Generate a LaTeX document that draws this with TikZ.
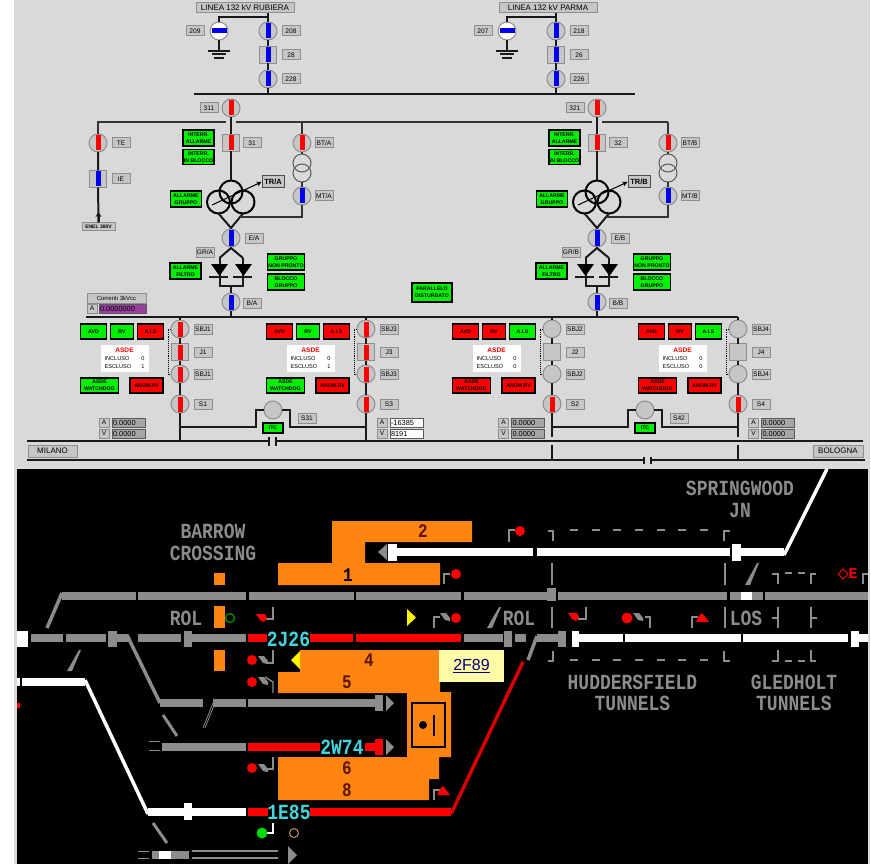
\documentclass[tikz,border=0pt]{standalone}
\usepackage{fontspec}
\setmainfont{Liberation Sans}
\setmonofont{Liberation Mono}
\usetikzlibrary{arrows.meta}
\definecolor{panelgrey}{HTML}{D9D9D9}
\definecolor{swgrey}{HTML}{C6C6C6}
\definecolor{edgegrey}{HTML}{8E8E8E}
\definecolor{okgreen}{HTML}{00F000}
\definecolor{dispgrey}{HTML}{A6A6A6}
\definecolor{disppurple}{HTML}{9A3FA0}
\definecolor{trkgrey}{HTML}{8C8C8C}
\definecolor{platform}{HTML}{FF8410}
\definecolor{idcyan}{HTML}{44D4DC}
\definecolor{brownnum}{HTML}{5A1408}
\definecolor{bluesw}{HTML}{0000F0}
\tikzset{
  sw/.style={circle,draw=edgegrey,fill=swgrey,line width=1pt,minimum size=18pt,inner sep=0pt,outer sep=0pt},
  brk/.style={rectangle,draw=edgegrey,fill=swgrey,line width=1pt,minimum size=17pt,inner sep=0pt,outer sep=0pt},
  swbar/.style={path picture={\fill[#1] ([xshift=-2.5pt,yshift=-7.5pt]path picture bounding box.center) rectangle ([xshift=2.5pt,yshift=7.5pt]path picture bounding box.center);}},
  tag/.style={draw=edgegrey,fill=swgrey,line width=1pt,font=\fontsize{6.6}{7}\selectfont,inner sep=0pt,minimum height=10pt,minimum width=#1},
  tag/.default=18pt,
  btn/.style={fill=#1,draw=black,line width=1.1pt,align=center,inner sep=0pt,outer sep=0pt,font=\fontsize{5.2}{6.6}\selectfont\bfseries},
  disp/.style={fill=#1,draw=black!65,line width=.9pt,align=left,inner ysep=0pt,inner xsep=1pt,text width=31pt,minimum height=9pt,font=\fontsize{7.4}{8}\selectfont},
  wire/.style={line width=2pt,black!90},
  coil/.style={circle,draw=black,line width=2pt,minimum size=23pt,inner sep=0pt,outer sep=0pt},
  wind/.style={circle,draw=black!65,line width=1pt,minimum size=18pt,inner sep=0pt,outer sep=0pt},
  trk/.style={line width=8pt,#1},
  trk/.default=trkgrey,
  post/.style={line width=1.4pt,draw=#1},
  post/.default=trkgrey,
  board/.style={text=trkgrey,font=\fontsize{18}{20}\selectfont\ttfamily\bfseries,yscale=1.2,inner sep=0pt},
  idtxt/.style={text=idcyan,font=\fontsize{18}{20}\selectfont\ttfamily\bfseries,yscale=1.2,inner sep=0pt},
  platnum/.style={text=brownnum,font=\fontsize{16}{18}\selectfont\ttfamily\bfseries,yscale=1.2,inner sep=0pt},
}
\newcommand{\wedgedown}[3]{\fill[#1] (#2-6,#3-3) -- (#2+3,#3-3) -- (#2+5,#3+1) -- (#2+2,#3+5) -- (#2-2,#3+3) -- cycle;}
\newcommand{\wedgeup}[3]{\fill[#1] (#2-6,#3+4) -- (#2+7,#3+4) -- (#2+4,#3) -- (#2,#3-5) -- (#2-3,#3-2) -- cycle;}
\newcommand{\wedgegrey}[2]{\fill[trkgrey] (#1-5,#2-4) -- (#1+1,#2-4) -- (#1+5,#2+1) -- (#1+5,#2+4) -- (#1,#2+3) -- cycle;}
\newcommand{\sliver}[4]{\fill[trkgrey] (#1-2,#2) -- (#1+3,#2) -- (#3+1,#4) -- (#3-1,#4) -- cycle;}
\begin{document}
\begin{tikzpicture}[x=1pt,y=-1pt]
  \useasboundingbox (0,0) rectangle (871,864);
  \fill[white] (0,0) rectangle (871,864);
  \fill[panelgrey] (14,0) rectangle (870,864);
  \fill[black] (17,469) rectangle (868,864);

  % incoming lines
  \foreach \lx/\lo/\ln/\gn/\sa/\sb/\sc in {268/-23/RUBIERA/209/208/28/228, 556/-8/PARMA/207/218/26/226} {
    \node[tag,minimum width=98pt,minimum height=10pt,font=\fontsize{8}{9}\selectfont,anchor=south] (line\ln) at (\lx+\lo,13) {LINEA 132 kV \ln};
    \node[sw,swbar=bluesw] (sw\sa) at (\lx,31) {};
    \node[brk,swbar=bluesw] (brk\sb) at (\lx,55) {};
    \node[sw,swbar=bluesw] (sw\sc) at (\lx,79) {};
    \node[sw,fill=white,path picture={\fill[bluesw] ([xshift=-7.5pt,yshift=-2.5pt]path picture bounding box.center) rectangle ([xshift=7.5pt,yshift=2.5pt]path picture bounding box.center);}] (sw\gn) at (\lx-49,31) {};
    \node[tag] (tag\gn) at (\lx-73,31) {\gn};
    \node[tag] (tag\sa) at (\lx+23,31) {\sa};
    \node[tag] (tag\sb) at (\lx+23,55) {\sb};
    \node[tag] (tag\sc) at (\lx+23,79) {\sc};
    \coordinate (top\ln) at (\lx,13);
    \coordinate (bus\ln) at (\lx,94);
    \coordinate (earth\ln) at (\lx-49,51);
    \draw[wire] (top\ln) -- (sw\sa) -- (brk\sb) -- (sw\sc) -- (bus\ln);
    \draw[wire] (\lx,17) -| (sw\gn.north);
    \draw[wire] (sw\gn) -- (earth\ln);
    \draw[wire] (earth\ln) ++(-11,0) -- ++(22,0);
    \draw[wire] (earth\ln) ++(-7,3.5) -- ++(14,0);
    \draw[wire] (earth\ln) ++(-5,7) -- ++(10,0);
  }
  \coordinate (busa) at (194,94);
  \coordinate (busb) at (635,94);
  \draw[wire] (busa) -- (busb);

  % auxiliary supply
  \node[sw,swbar=red] (swTE) at (98,143) {};
  \node[brk,swbar=bluesw] (brkIE) at (98,179) {};
  \node[tag] (tagTE) at (121,143) {TE};
  \node[tag] (tagIE) at (121,179) {IE};
  \node[tag,minimum width=33pt,minimum height=8pt,font=\fontsize{5}{6}\selectfont\bfseries] (enel) at (98.5,227) {ENEL 380V};
  \coordinate (aux) at (98,122);
  \coordinate (auxgapa) at (226,122);
  \coordinate (auxgapb) at (236,122);
  \coordinate (auxgapc) at (592,122);
  \coordinate (auxgapd) at (602,122);
  \coordinate (auxend) at (668,122);
  \draw[line width=1.5pt,black!80] (swTE) -- (aux) -- (auxgapa) (auxgapb) -- (auxgapc) (auxgapd) -- (auxend);
  \draw[wire] (swTE) -- (brkIE) -- (enel);
  \draw[-{Stealth[length=5pt,width=6pt]},wire] (enel) -- ++(0,-15);

  % transformer groups
  \foreach \dx/\g/\nn/\sn in {0/A/31/311, 366/B/32/321} {
    \node[sw,swbar=red] (sw\sn) at (\dx+231,108) {};
    \node[tag] (tag\sn) at (\dx+209,108) {\sn};
    \node[brk,swbar=red] (brk\nn) at (\dx+231,143) {};
    \node[tag] (tag\nn) at (\dx+252,143) {\nn};
    \node[btn=okgreen,minimum width=31pt,minimum height=16pt] (intall\g) at (\dx+198.5,138) {INTERR.\\ALLARME};
    \node[btn=okgreen,minimum width=31pt,minimum height=15pt] (intblk\g) at (\dx+198.5,157) {INTERR.\\IN BLOCCO};
    \node[btn=okgreen,minimum width=31pt,minimum height=16pt] (allgr\g) at (\dx+186,199) {ALLARME\\GRUPPO};
    \node[coil] (coilt\g) at (\dx+231,192) {};
    \node[coil] (coill\g) at (\dx+218.5,202) {};
    \node[coil] (coilr\g) at (\dx+243,202) {};
    \node[tag,draw=black!70,line width=1pt,minimum width=22pt,minimum height=12pt,font=\fontsize{7.5}{8}\selectfont\bfseries] (tagTR\g) at (\dx+273,182) {TR/\g};
    \draw[-{Stealth[length=5pt,width=5pt]},line width=1pt] ([xshift=-6.5pt,yshift=-3pt]coill\g.center) -- (tagTR\g.west);
    \coordinate (tip\g) at (\dx+231,228);
    \draw[wire] (coill\g.south) -- (tip\g) -- (coilr\g.south);
    \draw[wire] (sw\sn) -- (brk\nn) -- (coilt\g);
    \coordinate (tap\g) at (\dx+302,122);
    \node[sw,swbar=red] (swBT\g) at (\dx+302,143) {};
    \node[wind] (winda\g) at (\dx+302,163) {};
    \node[wind,fill=none] (windb\g) at (\dx+302,173) {};
    \node[sw,swbar=bluesw] (swMT\g) at (\dx+302,196) {};
    \node[tag] (tagBT\g) at (\dx+324,143) {BT/\g};
    \node[tag] (tagMT\g) at (\dx+324,196) {MT/\g};
    \draw[line width=1.5pt,black!80] (tap\g) -- (swBT\g) -- (winda\g);
    \draw[line width=1.5pt,black!80] (windb\g) -- (swMT\g) -- (\dx+302,217) -- (\dx+240,217);
    \node[sw,swbar=bluesw] (swE\g) at (\dx+231,238) {};
    \node[tag] (tagE\g) at (\dx+254,238.5) {E/\g};
    \node[tag] (tagGR\g) at (\dx+205,252) {GR/\g};
    \node[sw,swbar=bluesw] (swB\g) at (\dx+231,302) {};
    \node[tag] (tagB\g) at (\dx+252,303) {B/\g};
    \coordinate (apex\g) at (\dx+231,248);
    \coordinate (dl\g) at (\dx+219.5,258);
    \coordinate (dr\g) at (\dx+243,258);
    \coordinate (jn\g) at (\dx+231,286);
    \coordinate (bb\g) at (\dx+231,317);
    \draw[wire] (tip\g) -- (swE\g) -- (apex\g);
    \draw[wire] (dl\g) -- (apex\g) -- (dr\g);
    \draw[wire] (dl\g) -- ++(0,28) -- ++(23.5,0) -- (dr\g);
    \draw[wire] (jn\g) -- (swB\g) -- (bb\g);
    \fill (\dx+211,264) -- (\dx+228,264) -- (\dx+219.5,276) -- cycle;
    \fill (\dx+235,264) -- (\dx+252,264) -- (\dx+243.5,276) -- cycle;
    \draw[wire] (\dx+209,277) -- (\dx+228,277) (\dx+233,277) -- (\dx+252,277);
    \node[btn=okgreen,minimum width=31pt,minimum height=16pt] (allfl\g) at (\dx+185.5,271) {ALLARME\\FILTRO};
    \node[btn=okgreen,minimum width=37pt,minimum height=16pt] (grnp\g) at (\dx+286,262) {GRUPPO\\NON PRONTO};
    \node[btn=okgreen,minimum width=37pt,minimum height=16pt] (grbl\g) at (\dx+286,282) {BLOCCO\\GRUPPO};
  }
  \node[btn=okgreen,minimum width=40pt,minimum height=19pt] (parall) at (432,292.5) {PARALLELO\\DISTURBATO};

  % dc bus
  \coordinate (dcbusa) at (85.5,317);
  \coordinate (dcbusb) at (738,317);
  \draw[wire] (dcbusa) -- (dcbusb);
  \node[tag,minimum width=59pt,minimum height=10pt,font=\fontsize{6}{7}\selectfont] (corr) at (116.5,298) {Correnti 3kVcc};
  \node[tag,minimum width=10pt,minimum height=9pt] (corrA) at (92,308.5) {A};
  \node[disp=disppurple,text width=45pt,font=\fontsize{7.4}{8}\selectfont] (corrval) at (122.5,308.5) {0.0000000};

  % line feeders
  \foreach \fx/\fn/\bc/\avdst/\rvst/\ajsst/\wdst/\anst/\incl/\excl/\ax/\va/\vb/\dc/\fend in {
    180/1/red/okgreen/okgreen/red/okgreen/red/0/1/-76/0.0000/0.0000/dispgrey/441,
    366/3/red/red/okgreen/red/okgreen/red/0/1/16/-16385/8191/white/441,
    552/2/swgrey/red/red/okgreen/red/red/0/0/-48.5/0.0000/0.0000/dispgrey/437,
    738/4/swgrey/red/red/okgreen/red/red/0/0/15.5/0.0000/0.0000/dispgrey/437} {
    \node[sw,swbar=\bc] (sba\fn) at (\fx,329) {};
    \node[brk,swbar=\bc] (brkJ\fn) at (\fx,352) {};
    \node[sw,swbar=\bc] (sbb\fn) at (\fx,374) {};
    \node[sw,swbar=red] (swS\fn) at (\fx,404) {};
    \node[tag] (tagsa\fn) at (\fx+23,329) {SBJ\fn};
    \node[tag] (tagJ\fn) at (\fx+23,352) {J\fn};
    \node[tag] (tagsb\fn) at (\fx+23,374) {SBJ\fn};
    \node[tag] (tagS\fn) at (\fx+23,404) {S\fn};
    \coordinate (ftop\fn) at (\fx,317);
    \coordinate (fend\fn) at (\fx,\fend);
    \coordinate (fjct\fn) at (\fx,427);
    \draw[wire] (ftop\fn) -- (sba\fn) -- (brkJ\fn) -- (sbb\fn) -- (swS\fn) -- (fend\fn);
    \draw[densely dotted,line width=.9pt] (sba\fn.west) -- ++(-3,0) |- (sbb\fn.west);
    \node[btn=\avdst,minimum width=26pt,minimum height=15pt] (avd\fn) at (\fx-86.5,331.5) {AVD};
    \node[btn=\rvst,minimum width=23pt,minimum height=15pt] (rv\fn) at (\fx-58,331.5) {RV};
    \node[btn=\ajsst,minimum width=26pt,minimum height=15pt] (ajs\fn) at (\fx-29.5,331.5) {A.I.S};
    \node[fill=white,minimum width=48pt,minimum height=27pt,inner sep=0pt,font=\fontsize{5.6}{8}\selectfont] (asde\fn) at (\fx-55.5,358.5) {\begin{tabular}{@{}l@{\hspace{10pt}}l@{}}\multicolumn{2}{c}{\textcolor{red}{\bfseries\fontsize{6.6}{8}\selectfont ASDE}}\\ INCLUSO & \incl\\ ESCLUSO & \excl\end{tabular}};
    \node[btn=\wdst,minimum width=38pt,minimum height=15pt] (wd\fn) at (\fx-80.5,385.5) {ASDE\\WATCHDOG};
    \node[btn=\anst,minimum width=33pt,minimum height=15pt] (anom\fn) at (\fx-33.5,385.5) {ANOM.RV};
    \node[tag,minimum width=10pt,minimum height=9pt] (tagA\fn) at (\fx+\ax,422.5) {A};
    \node[tag,minimum width=10pt,minimum height=9pt] (tagV\fn) at (\fx+\ax,433.5) {V};
    \node[disp=\dc] (dispA\fn) at (\fx+\ax+24.5,422.5) {\va};
    \node[disp=\dc] (dispV\fn) at (\fx+\ax+24.5,433.5) {\vb};
  }
  \foreach \sx/\sn/\fl/\fr in {273/S31/1/3, 645/S42/2/4} {
    \node[sw] (sw\sn) at (\sx,410) {};
    \node[tag] (tag\sn) at (\sx+34,418) {\sn};
    \node[btn=okgreen,minimum width=20pt,minimum height=10pt] (itc\sn) at (\sx,428) {ITC};
    \draw[wire] (fjct\fl) -- (\sx-17,427) |- (sw\sn.west);
    \draw[wire] (sw\sn.east) -| (\sx+17,427) -- (fjct\fr);
  }
  \draw[wire] (552,445) -- (552,460) (738,445) -- (738,460);

  % rails
  \node[tag,minimum width=49pt,minimum height=12pt,font=\fontsize{8}{9}\selectfont] (milano) at (52.5,451) {MILANO};
  \node[tag,minimum width=50pt,minimum height=12pt,font=\fontsize{8}{9}\selectfont] (bologna) at (838,451) {BOLOGNA};
  \draw[wire] (27,441) -- (269,441) (276,441) -- (863,441);
  \draw[wire] (27,460) -- (644,460) (651,460) -- (865,460);
  \draw[wire] (269,437) -- (269,445.5) (276,437) -- (276,445.5);
  \draw[wire] (644,456.5) -- (644,464) (651,456.5) -- (651,464);

  % platforms
  \fill[platform] (332,521) -- (472,521) -- (472,542) -- (365,542) -- (365,563) -- (440,563) -- (440,585) -- (278,585) -- (278,563) -- (332,563) -- cycle;
  \fill[platform] (300,650) -- (440,650) -- (440,692) -- (451,692) -- (451,757) -- (439,757) -- (439,779) -- (429,779) -- (429,800) -- (278,800) -- (278,757) -- (407,757) -- (407,693) -- (278,693) -- (278,672) -- (300,672) -- cycle;
  \foreach \ya/\yb in {573/585, 606/628, 650/671}
    \fill[platform] (214,\ya) rectangle (225,\yb);
  \node[platnum,text=black] (pf1) at (348,575) {1};
  \node[platnum] (pf2) at (423,531) {2};
  \node[platnum] (pf4) at (369,660) {4};
  \node[platnum] (pf5) at (347,682) {5};
  \node[platnum] (pf6) at (347,768) {6};
  \node[platnum] (pf8) at (347,790) {8};
  \draw[line width=2pt] (412,703) rectangle (445,747);
  \fill (423,725) circle (4);
  \draw[line width=1.6pt] (434,715) -- (434,736);
  \node[fill=yellow!35,minimum width=65pt,minimum height=32pt,inner sep=0pt,text=blue!50!black,font=\fontsize{16}{18}\selectfont] (train) at (471.5,666) {\underline{2F89}};

  % grey tracks
  \foreach \xa/\xb in {62/136, 138/246, 249/354, 356/461, 464/547, 558/727, 730/763, 765/868}
    \draw[trk] (\xa,596) -- (\xb,596);
  \foreach \xa/\xb in {31/63, 66/106, 117/128, 138/181, 192/246, 464/503, 515/526, 537/558}
    \draw[trk] (\xa,638) -- (\xb,638);
  \foreach \xa/\xb in {160/203, 213/246, 248/375}
    \draw[trk] (\xa,703) -- (\xb,703);
  \draw[trk] (162,747) -- (246,747);
  \foreach \xa/\xb/\ya/\yb in {547/556/588/601, 108/117/631/647, 184/192/631/647, 504/512/631/647, 558/566/631/647, 375/383/695/711}
    \fill[trkgrey] (\xa,\ya) rectangle (\xb,\yb);
  \draw[line width=3.5pt,trkgrey] (62,593) -- (47,628);
  \draw[line width=3.5pt,trkgrey] (127,635) -- (160,703);
  \draw[line width=3.5pt,trkgrey] (537,636) -- (528,660);
  \draw[line width=3pt,trkgrey] (163,715) -- (177,736);
  \draw[line width=3pt,trkgrey] (153,823) -- (167,843);
  \draw[line width=.8pt,trkgrey] (213,703) -- (203,728) (215,703) -- (205,728);
  \foreach \yy in {741,750}
    \draw[line width=1pt,trkgrey] (149,\yy) -- (160,\yy);
  \foreach \yy in {851,858} {
    \draw[line width=1pt,trkgrey] (138,\yy) -- (149,\yy);
    \draw[line width=1.2pt,trkgrey] (192,\yy) -- (278,\yy);
  }
  \fill[trkgrey] (152,851) rectangle (189,859);
  \fill[white] (159,851) rectangle (171,859);
  \fill[white] (741,592) rectangle (752,600);
  \fill[trkgrey] (387,544) -- (387,560) -- (378,552) -- cycle;
  \fill[trkgrey] (386,695) -- (386,711) -- (394,703) -- cycle;
  \fill[trkgrey] (386,739) -- (386,755) -- (394,747) -- cycle;
  \fill[trkgrey] (288,846) -- (288,864) -- (297,855) -- cycle;
  \fill[yellow] (407,609) -- (407,626) -- (416,617.5) -- cycle;
  \fill[yellow] (300,651) -- (300,669) -- (291,660) -- cycle;

  % red tracks
  \foreach \xa/\xb in {248/267, 310/353, 356/461}
    \draw[trk=red] (\xa,638) -- (\xb,638);
  \draw[trk=red] (248,747) -- (320,747);
  \draw[trk=red] (365,747) -- (375,747);
  \fill[red] (375,739) rectangle (383,755);
  \draw[trk=red] (248,812) -- (268,812);
  \draw[trk=red] (310,812) -- (451,812);
  \draw[line width=3.5pt,red!85!black] (523,662) -- (451,814);
  \fill[red] (17,703) rectangle (20,708);

  % white tracks
  \foreach \xa/\xb/\yy in {397/533/552, 537/730/552, 741/784/552, 579/623/638, 625/741/638, 743/848/638, 859/868/638, 22/85/682, 148/246/812}
    \draw[trk=white] (\xa,\yy) -- (\xb,\yy);
  \draw[trk=white] (17,682) -- (20,682);
  \foreach \xa/\xb/\ya/\yb in {388/397/544/561, 732/741/544/561, 17/28/631/647, 572/579/631/647, 851/859/631/647, 184/192/803/820}
    \fill[white] (\xa,\ya) rectangle (\xb,\yb);
  \draw[line width=3.5pt,white] (784,555) -- (827,469);
  \draw[line width=3.5pt,white] (85,680) -- (148,814);

  % signal posts and dashes
  \foreach \xa in {570,592,613,635,657,678,700} {
    \draw[post] (\xa,530) -- ++(8,0);
    \draw[post] (\xa,660) -- ++(8,0);
  }
  \draw[post] (548,531) -- (553,531) -- (553,541);
  \draw[post] (724,541) -- (724,531) -- (730,531);
  \draw[post] (548,661) -- (553,661) -- (553,651);
  \draw[post] (724,651) -- (724,661) -- (730,661);
  \foreach \xa in {552,725} {
    \draw[post] (\xa,563) -- (\xa,585);
    \draw[post] (\xa,607) -- (\xa,628);
  }
  \draw[post] (772,574) -- (778,574) -- (778,584);
  \draw[post] (811,584) -- (811,574) -- (816,574);
  \draw[post] (778,607) -- (778,628) (772,618) -- (778,618);
  \draw[post] (811,607) -- (811,628) (811,618) -- (817,618);
  \draw[post] (772,661) -- (778,661) -- (778,650);
  \draw[post] (811,650) -- (811,661) -- (816,661);
  \foreach \xa in {785,798} {
    \draw[post] (\xa,573) -- ++(7,0);
    \draw[post] (\xa,661) -- ++(7,0);
  }
  \sliver{747}{585}{758}{563}
  \sliver{489}{628}{500}{607}
  \sliver{69}{671}{80}{650}

  % signals
  \draw[post] (273,607) -- (273,619) -- (266,619);
  \wedgedown{red}{262}{617}
  \draw[post] (273,650) -- (273,663) -- (266,663);
  \wedgegrey{263}{660}
  \fill[red] (252,660) circle (5);
  \draw[post] (265,677) -- (273,682) -- (273,693);
  \wedgegrey{263}{681}
  \fill[red] (252,682) circle (5);
  \draw[post] (273,757) -- (273,769) -- (266,769);
  \wedgegrey{263}{768}
  \fill[red] (252,768) circle (5);
  \draw[post] (434,800) -- (434,790) -- (441,790);
  \wedgeup{red}{443}{791}
  \draw[post] (509,542) -- (509,530) -- (515,530);
  \fill[red] (520,531) circle (5);
  \draw[post] (444,584) -- (444,574) -- (450,574);
  \fill[red] (456,574) circle (5);
  \draw[post] (434,628) -- (434,617) -- (440,617);
  \wedgegrey{445}{617}
  \fill[red] (456,618) circle (5);
  \draw[post] (586,607) -- (586,619) -- (578,619);
  \wedgedown{red}{574}{616}
  \draw[post] (650,628) -- (650,617) -- (645,617);
  \wedgegrey{638}{617}
  \fill[red] (627,618) circle (5.5);
  \draw[post] (692,628) -- (692,617) -- (698,617);
  \wedgeup{red}{702}{618}
  \draw[post] (863,584) -- (863,574) -- (868,574);
  \draw[line width=1pt,red] (843,569) -- (848,574) -- (843,579) -- (838,574) -- cycle;
  \node[text=red,font=\fontsize{15}{16}\selectfont\ttfamily\bfseries,inner sep=0pt] (sige) at (853,574) {E};
  \draw[post=white] (273,823) -- (273,833) -- (267,833);
  \fill[green!85!black] (262,833) circle (5.5);
  \draw[line width=1pt,green!70!black] (230,618) circle (4.5);
  \draw[line width=1pt,orange!50!white!75!black] (294,833) circle (4.5);

  % board texts
  \node[board] (barrow) at (213,531) {BARROW};
  \node[board] (crossing) at (213,553) {CROSSING};
  \node[board] (rola) at (186,618) {ROL};
  \node[board] (rolb) at (519,618) {ROL};
  \node[board] (los) at (746,618) {LOS};
  \node[board] (spring) at (740,488) {SPRINGWOOD};
  \node[board] (jn) at (740,510) {JN};
  \node[board] (hudd) at (632.5,682) {HUDDERSFIELD};
  \node[board] (tunna) at (632.5,703) {TUNNELS};
  \node[board] (gled) at (794,682) {GLEDHOLT};
  \node[board] (tunnb) at (794,703) {TUNNELS};
  \node[idtxt] (id2j26) at (288.5,639) {2J26};
  \node[idtxt] (id2w74) at (342,747) {2W74};
  \node[idtxt] (id1e85) at (289,812) {1E85};
\end{tikzpicture}
\end{document}
